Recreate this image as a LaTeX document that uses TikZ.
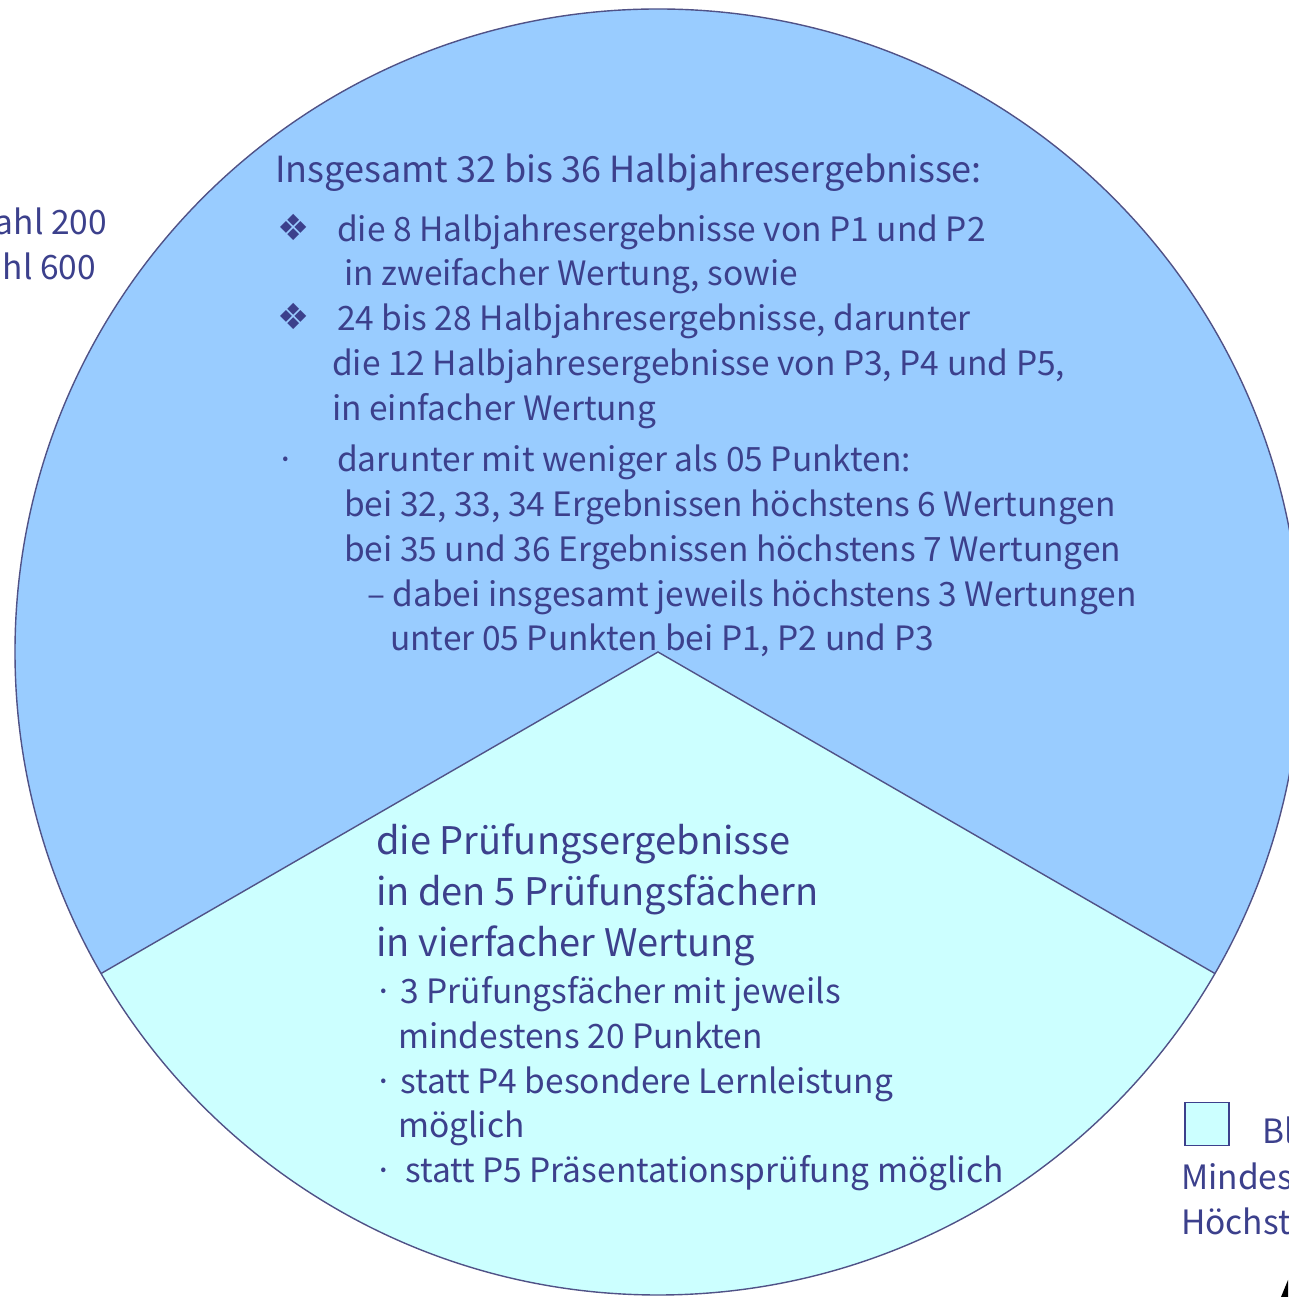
\documentclass[tikz,border=0pt]{standalone}
\usepackage{fontspec}
\usetikzlibrary{calc}
\setmainfont{Noto Sans CJK JP}
\newfontfamily\symfont{DejaVu Sans}
\definecolor{txtblue}{RGB}{60,64,140}
\definecolor{upperfill}{HTML}{99CCFF}
\definecolor{lowerfill}{HTML}{CCFFFF}
\definecolor{edgeblue}{RGB}{80,82,135}
\begin{document}
\begin{tikzpicture}[x=1pt,y=1pt,
  t/.style={anchor=base west, inner sep=0pt, text=txtblue, font=\fontsize{33.5}{40}\selectfont},
  tr/.style={t, anchor=base east},
  tt/.style={t, font=\fontsize{36}{43}\selectfont},
  tb/.style={t, font=\fontsize{38}{46}\selectfont},
  sym/.style={t, font=\symfont\fontsize{36}{43}\selectfont},
  edgeline/.style={draw=edgeblue, line width=1.4pt}]
\useasboundingbox (0,0) rectangle (1288,1297);
\coordinate (C) at (658,645);
% sectors
\fill[upperfill] (C) -- ++(210:643) arc[start angle=210, end angle=-30, radius=643] -- cycle;
\fill[lowerfill] (C) -- ++(210:643) arc[start angle=210, end angle=330, radius=643] -- cycle;
\draw[edgeline] (C) circle[radius=643];
\coordinate (L) at ($(C)+(210:643)$);
\coordinate (R) at ($(C)+(330:643)$);
\draw[edgeline] (L) -- (C) -- (R);
% upper text
\node[tt] (u0) at (275,1297-183) {Insgesamt 32 bis 36 Halbjahresergebnisse:};
\node[sym] (b1) at (277,1297-241) {❖};
\node[t] (u1) at (337,1297-242) {die 8 Halbjahresergebnisse von P1 und P2};
\node[t] (u2) at (344,1297-286) {in zweifacher Wertung, sowie};
\node[sym] (b2) at (277,1297-330) {❖};
\node[t] (u3) at (337,1297-331) {24 bis 28 Halbjahresergebnisse, darunter};
\node[t] (u4) at (332,1297-376) {die 12 Halbjahresergebnisse von P3, P4 und P5,};
\node[t] (u5) at (332,1297-421) {in einfacher Wertung};
\node[t] (b3) at (276,1297-472) {·};
\node[t] (u6) at (337,1297-472) {darunter mit weniger als 05 Punkten:};
\node[t] (u7) at (344,1297-517) {bei 32, 33, 34 Ergebnissen höchstens 6 Wertungen};
\node[t] (u8) at (344,1297-562) {bei 35 und 36 Ergebnissen höchstens 7 Wertungen};
\node[t] (u9) at (367,1297-607) {– dabei insgesamt jeweils höchstens 3 Wertungen};
\node[t] (u10) at (390,1297-651) {unter 05 Punkten bei P1, P2 und P3};
% lower text
\node[tb] (l1) at (376,1297-855) {die Prüfungsergebnisse};
\node[tb] (l2) at (376,1297-906) {in den 5 Prüfungsfächern};
\node[tb] (l3) at (376,1297-957) {in vierfacher Wertung};
\node[t] (l4) at (374,1297-1004) {· 3 Prüfungsfächer mit jeweils};
\node[t] (l5) at (398,1297-1049) {mindestens 20 Punkten};
\node[t] (l6) at (374,1297-1094) {· statt P4 besondere Lernleistung};
\node[t] (l7) at (398,1297-1138) {möglich};
\node[t] (l8) at (374,1297-1183) {·};
\node[t] (l9) at (405,1297-1183) {statt P5 Präsentationsprüfung möglich};
% left fragments
\node[tr] (f1) at (107,1297-235) {ahl 200};
\node[tr] (f2) at (96,1297-280) {ahl 600};
% legend fragment
\node[draw=txtblue, line width=1.4pt, fill=lowerfill, minimum width=44pt, minimum height=43pt, inner sep=0pt] (box) at (1207,1297-1124) {};
\node[t] (g1) at (1262,1297-1144) {Bl};
\node[t] (g2) at (1181,1297-1190) {Mindes};
\node[t] (g3) at (1181,1297-1235) {Höchst};
\fill[black] (1281,0) -- (1288,17) -- (1288,0) -- cycle;
\end{tikzpicture}
\end{document}
